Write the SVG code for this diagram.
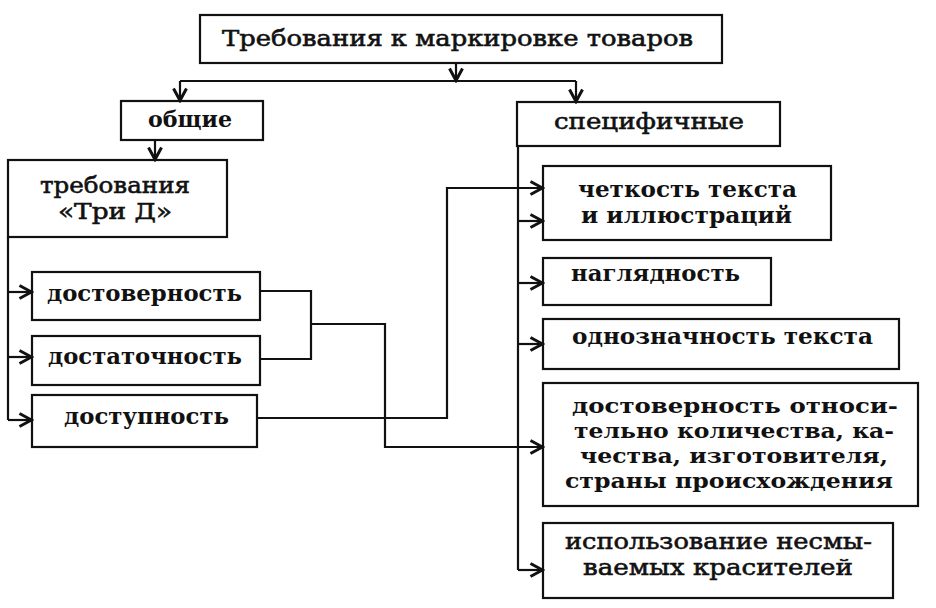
<svg xmlns="http://www.w3.org/2000/svg" width="936" height="608" viewBox="0 0 936 608">
<style>
.box{fill:none;stroke:#111;stroke-width:2.2}
.ln{fill:none;stroke:#111;stroke-width:2.2}
.t{font-family:"DejaVu Serif","Liberation Serif",serif;fill:#111;font-size:23px;font-weight:bold}
.ts{font-size:21px}
.tn{font-family:"DejaVu Serif","Liberation Serif",serif;fill:#111;font-size:23px;stroke:#111;stroke-width:0.6}
</style>
<defs>
<marker id="ar" viewBox="0 0 16 16" refX="14.5" refY="8" markerWidth="16" markerHeight="16" markerUnits="userSpaceOnUse" orient="auto">
<path d="M2,1.5 L14,8 L2,14.5" fill="none" stroke="#111" stroke-width="3"/>
</marker>
</defs>
<rect width="936" height="608" fill="#fff"/>
<g id="connectors">
<path class="ln" d="M456,63 V81" marker-end="url(#ar)"/>
<path class="ln" d="M180,81 H576"/>
<path class="ln" d="M180,81 V101" marker-end="url(#ar)"/>
<path class="ln" d="M576,81 V102" marker-end="url(#ar)"/>
<path class="ln" d="M155,140 V160" marker-end="url(#ar)"/>
<path class="ln" d="M8,237 V420"/>
<path class="ln" d="M8,292 H32" marker-end="url(#ar)"/>
<path class="ln" d="M8,357 H32" marker-end="url(#ar)"/>
<path class="ln" d="M8,420 H32" marker-end="url(#ar)"/>
<path class="ln" d="M260,291 H311 V359 H260"/>
<path class="ln" d="M311,324 H385 V447 H543" marker-end="url(#ar)"/>
<path class="ln" d="M257,418 H447 V188 H543" marker-end="url(#ar)"/>
<path class="ln" d="M518,146 V570"/>
<path class="ln" d="M518,221 H543" marker-end="url(#ar)"/>
<path class="ln" d="M518,283 H543" marker-end="url(#ar)"/>
<path class="ln" d="M518,344 H543" marker-end="url(#ar)"/>
<path class="ln" d="M518,570 H543" marker-end="url(#ar)"/>
</g>
<g id="n-title">
<rect class="box" x="200" y="15" width="522" height="48"/>
<text class="tn" x="222" y="46" textLength="471" lengthAdjust="spacingAndGlyphs">Требования к маркировке товаров</text>
</g>
<g id="n-obshchie">
<rect class="box" x="121" y="101" width="142" height="39"/>
<text class="t" x="148" y="127" textLength="84" lengthAdjust="spacingAndGlyphs">общие</text>
</g>
<g id="n-trid">
<rect class="box" x="8" y="160" width="219" height="77"/>
<text class="tn" x="40" y="193" textLength="150" lengthAdjust="spacingAndGlyphs">требования</text>
<text class="tn" x="58" y="219" textLength="114" lengthAdjust="spacingAndGlyphs">«Три Д»</text>
</g>
<g id="n-dostovernost">
<rect class="box" x="32" y="272" width="228" height="48"/>
<text class="t" x="47" y="301" textLength="195" lengthAdjust="spacingAndGlyphs">достоверность</text>
</g>
<g id="n-dostatochnost">
<rect class="box" x="32" y="336" width="228" height="49"/>
<text class="t" x="48" y="364" textLength="194" lengthAdjust="spacingAndGlyphs">достаточность</text>
</g>
<g id="n-dostupnost">
<rect class="box" x="32" y="395" width="225" height="52"/>
<text class="t" x="64" y="424" textLength="165" lengthAdjust="spacingAndGlyphs">доступность</text>
</g>
<g id="n-specific">
<rect class="box" x="517" y="102" width="263" height="44"/>
<text class="tn" x="554" y="129" textLength="190" lengthAdjust="spacingAndGlyphs">специфичные</text>
</g>
<g id="n-chetkost">
<rect class="box" x="543" y="166" width="288" height="74"/>
<text class="t" x="578" y="197" textLength="219" lengthAdjust="spacingAndGlyphs">четкость текста</text>
<text class="t" x="581" y="223" textLength="211" lengthAdjust="spacingAndGlyphs">и иллюстраций</text>
</g>
<g id="n-naglyadnost">
<rect class="box" x="543" y="258" width="228" height="47"/>
<text class="t" x="571" y="281" textLength="169" lengthAdjust="spacingAndGlyphs">наглядность</text>
</g>
<g id="n-odnoznachnost">
<rect class="box" x="543" y="319" width="356" height="50"/>
<text class="t" x="572" y="344" textLength="301" lengthAdjust="spacingAndGlyphs">однозначность текста</text>
</g>
<g id="n-dost-otn">
<rect class="box" x="543" y="383" width="375" height="123"/>
<text class="t ts" x="572" y="413" textLength="326" lengthAdjust="spacingAndGlyphs">достоверность относи-</text>
<text class="t ts" x="574" y="438" textLength="320" lengthAdjust="spacingAndGlyphs">тельно количества, ка-</text>
<text class="t ts" x="580" y="463" textLength="308" lengthAdjust="spacingAndGlyphs">чества, изготовителя,</text>
<text class="t ts" x="565" y="488" textLength="328" lengthAdjust="spacingAndGlyphs">страны происхождения</text>
</g>
<g id="n-ispolzovanie">
<rect class="box" x="543" y="523" width="350" height="75"/>
<text class="tn" x="565" y="549" textLength="307" lengthAdjust="spacingAndGlyphs">использование несмы-</text>
<text class="tn" x="583" y="575" textLength="270" lengthAdjust="spacingAndGlyphs">ваемых красителей</text>
</g>
</svg>
